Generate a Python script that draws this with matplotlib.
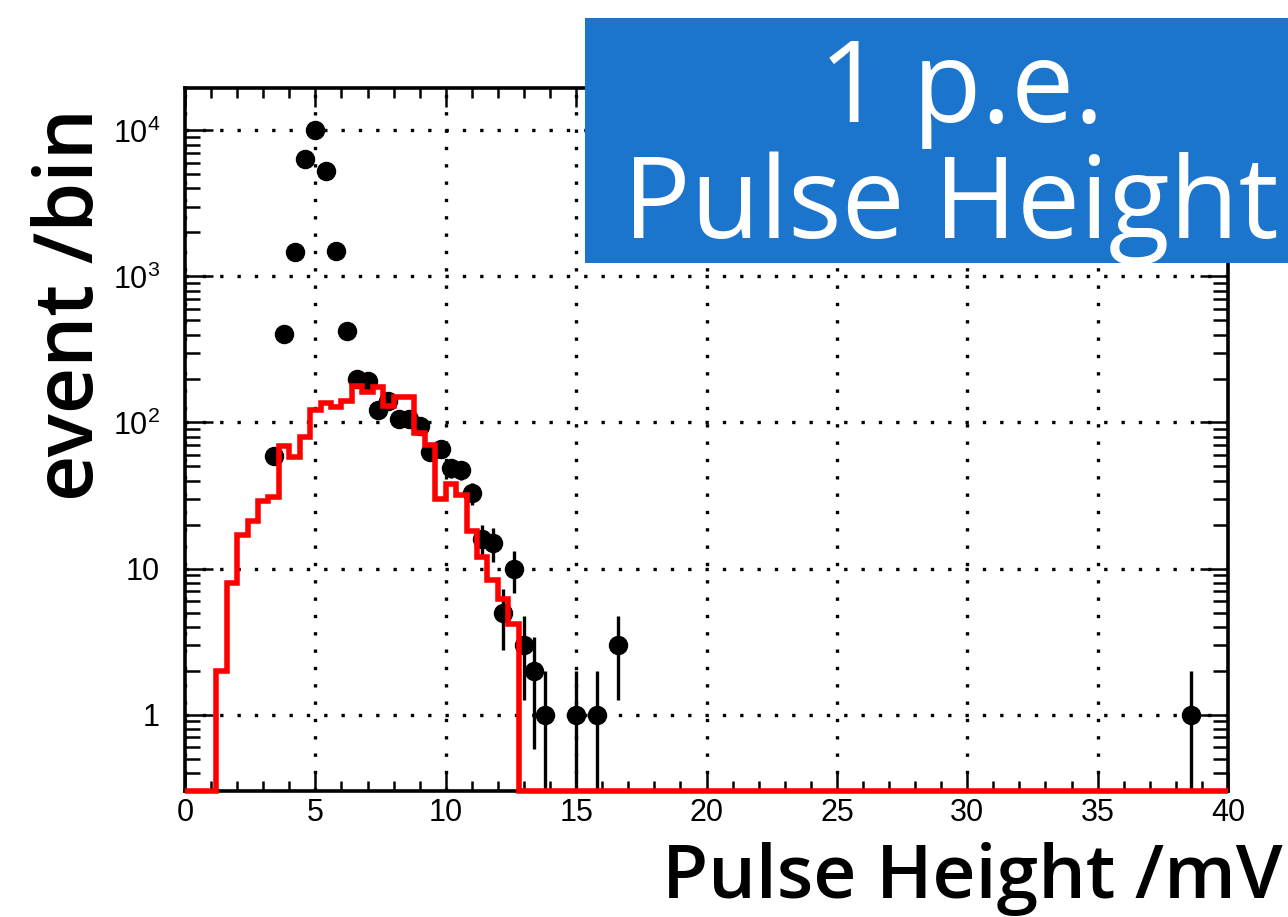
import numpy as np
import matplotlib
matplotlib.use("Agg")
import matplotlib.pyplot as plt
from matplotlib.patches import Rectangle
from matplotlib.ticker import FixedLocator, MultipleLocator, NullFormatter, FixedFormatter

# ---------------- data ----------------
# simulated (red) histogram: 100 bins of 0.4 mV between 0 and 40 mV
mc_edges = np.round(np.arange(0.0, 40.0 + 0.2, 0.4), 1)
mc_counts = ([0] * 3 +
             [2, 8, 17, 21, 29, 31, 69, 58, 79, 122, 137, 128, 140, 179, 163,
              176, 130, 149, 149, 85, 70, 30, 38, 32, 18, 12, 8.4, 6.2, 4.2] +
             [0] * 68)

# measured data points (bin centres, counts)
data_x = [3.4, 3.8, 4.2, 4.6, 5.0, 5.4, 5.8, 6.2, 6.6, 7.0, 7.4, 7.8, 8.2, 8.6,
          9.0, 9.4, 9.8, 10.2, 10.6, 11.0, 11.4, 11.8, 12.2, 12.6, 13.0, 13.4,
          13.8, 15.0, 15.8, 16.6, 38.6]
data_y = [59, 405, 1470, 6400, 10000, 5300, 1500, 425, 200, 192, 122, 140, 106,
          105, 95, 63, 66, 49, 47, 33, 16, 15, 5, 10, 3, 2,
          1, 1, 1, 3, 1]

x_ticks = [0, 5, 10, 15, 20, 25, 30, 35, 40]
y_ticks = [1, 10, 100, 1000, 10000]
y_tick_labels = ["1", "10", "$10^{2}$", "$10^{3}$", "$10^{4}$"]

xlabel = "Pulse Height /mV"
ylabel = "event /bin"
box_lines = ["1 p.e.", "Pulse Height"]

# ---------------- style ----------------
plt.rcParams["font.family"] = ["Liberation Sans", "DejaVu Sans"]
plt.rcParams["mathtext.fontset"] = "custom"
plt.rcParams["mathtext.rm"] = "Liberation Sans"
plt.rcParams["mathtext.it"] = "Liberation Sans"
plt.rcParams["mathtext.bf"] = "Liberation Sans"
plt.rcParams["mathtext.default"] = "regular"

W, H = 1288, 917
fig = plt.figure(figsize=(W / 100, H / 100), dpi=100)
fig.patch.set_facecolor("white")

ax_l, ax_r, ax_t, ax_b = 185, 1228, 88, 791
ax = fig.add_axes([ax_l / W, 1 - ax_b / H, (ax_r - ax_l) / W, (ax_b - ax_t) / H])

ymin, ymax = 0.3, 1.95e4
ax.set_xlim(0, 40)
ax.set_yscale("log")
ax.set_ylim(ymin, ymax)

# grid
ax.grid(True, which="major", color="black", linestyle=(0, (1, 4.2)), linewidth=2.4, zorder=0.5)

# data points with Poisson errors
dy = np.asarray(data_y, dtype=float)
err = np.sqrt(dy)
err_lo = np.minimum(err, dy * 0.999)
ax.errorbar(data_x, dy, yerr=[err_lo, err], fmt="o", color="black", ms=13,
            elinewidth=2.4, capsize=0, zorder=2)

# red histogram (empty bins drawn along the lower frame)
counts = np.asarray(mc_counts, dtype=float)
plot_counts = np.where(counts > 0, counts, ymin)
ax.stairs(plot_counts, mc_edges, baseline=None, color="#ff0000", linewidth=4.0,
          zorder=3, clip_on=False, joinstyle="miter", capstyle="butt")

# ticks
ax.xaxis.set_major_locator(FixedLocator(x_ticks))
ax.xaxis.set_minor_locator(MultipleLocator(1))
ax.yaxis.set_major_locator(FixedLocator(y_ticks))
ax.yaxis.set_major_formatter(FixedFormatter(y_tick_labels))
minor_y = [m * 10.0 ** d for d in range(-1, 5) for m in range(2, 10)]
ax.yaxis.set_minor_locator(FixedLocator(minor_y))
ax.yaxis.set_minor_formatter(NullFormatter())
ax.set_xticklabels([str(t) for t in x_ticks])

ax.tick_params(which="both", direction="in", top=True, right=True, color="black")
ax.tick_params(axis="x", which="major", length=14, width=1.8, labelsize=22, pad=5)
ax.tick_params(axis="x", which="minor", length=7, width=1.8)
ax.tick_params(axis="y", which="major", length=20, width=1.8, labelsize=22, pad=18)
ax.tick_params(axis="y", which="minor", length=11, width=1.8)

for s in ax.spines.values():
    s.set_linewidth(2.6)
    s.set_color("black")
    s.set_zorder(2.5)

# axis titles
label_font = ["Open Sans", "Liberation Sans", "DejaVu Sans"]
fig.text(1282 / W, 1 - 898 / H, xlabel, ha="right", va="baseline",
         fontsize=54, fontweight="semibold", color="black", family=label_font)
fig.text(93 / W, 1 - 305 / H, ylabel, ha="center", va="baseline",
         rotation=90, rotation_mode="anchor",
         fontsize=58, fontweight="semibold", color="black", family=label_font)

# blue title box
box = Rectangle((585 / W, 1 - 263 / H), 1 - 585 / W + 0.01, (263 - 18) / H,
                transform=fig.transFigure, facecolor="#1b75cc", edgecolor="none",
                zorder=10)
fig.add_artist(box)
box_font = ["Open Sans", "DejaVu Sans"]
fig.text(961 / W, 1 - 122 / H, box_lines[0], ha="center", va="baseline",
         fontsize=81, color="white", family=box_font, zorder=11)
fig.text(951 / W, 1 - 238 / H, box_lines[1], ha="center", va="baseline",
         fontsize=81, color="white", family=box_font, zorder=11)

fig.savefig("out.png", dpi=100, facecolor="white")
